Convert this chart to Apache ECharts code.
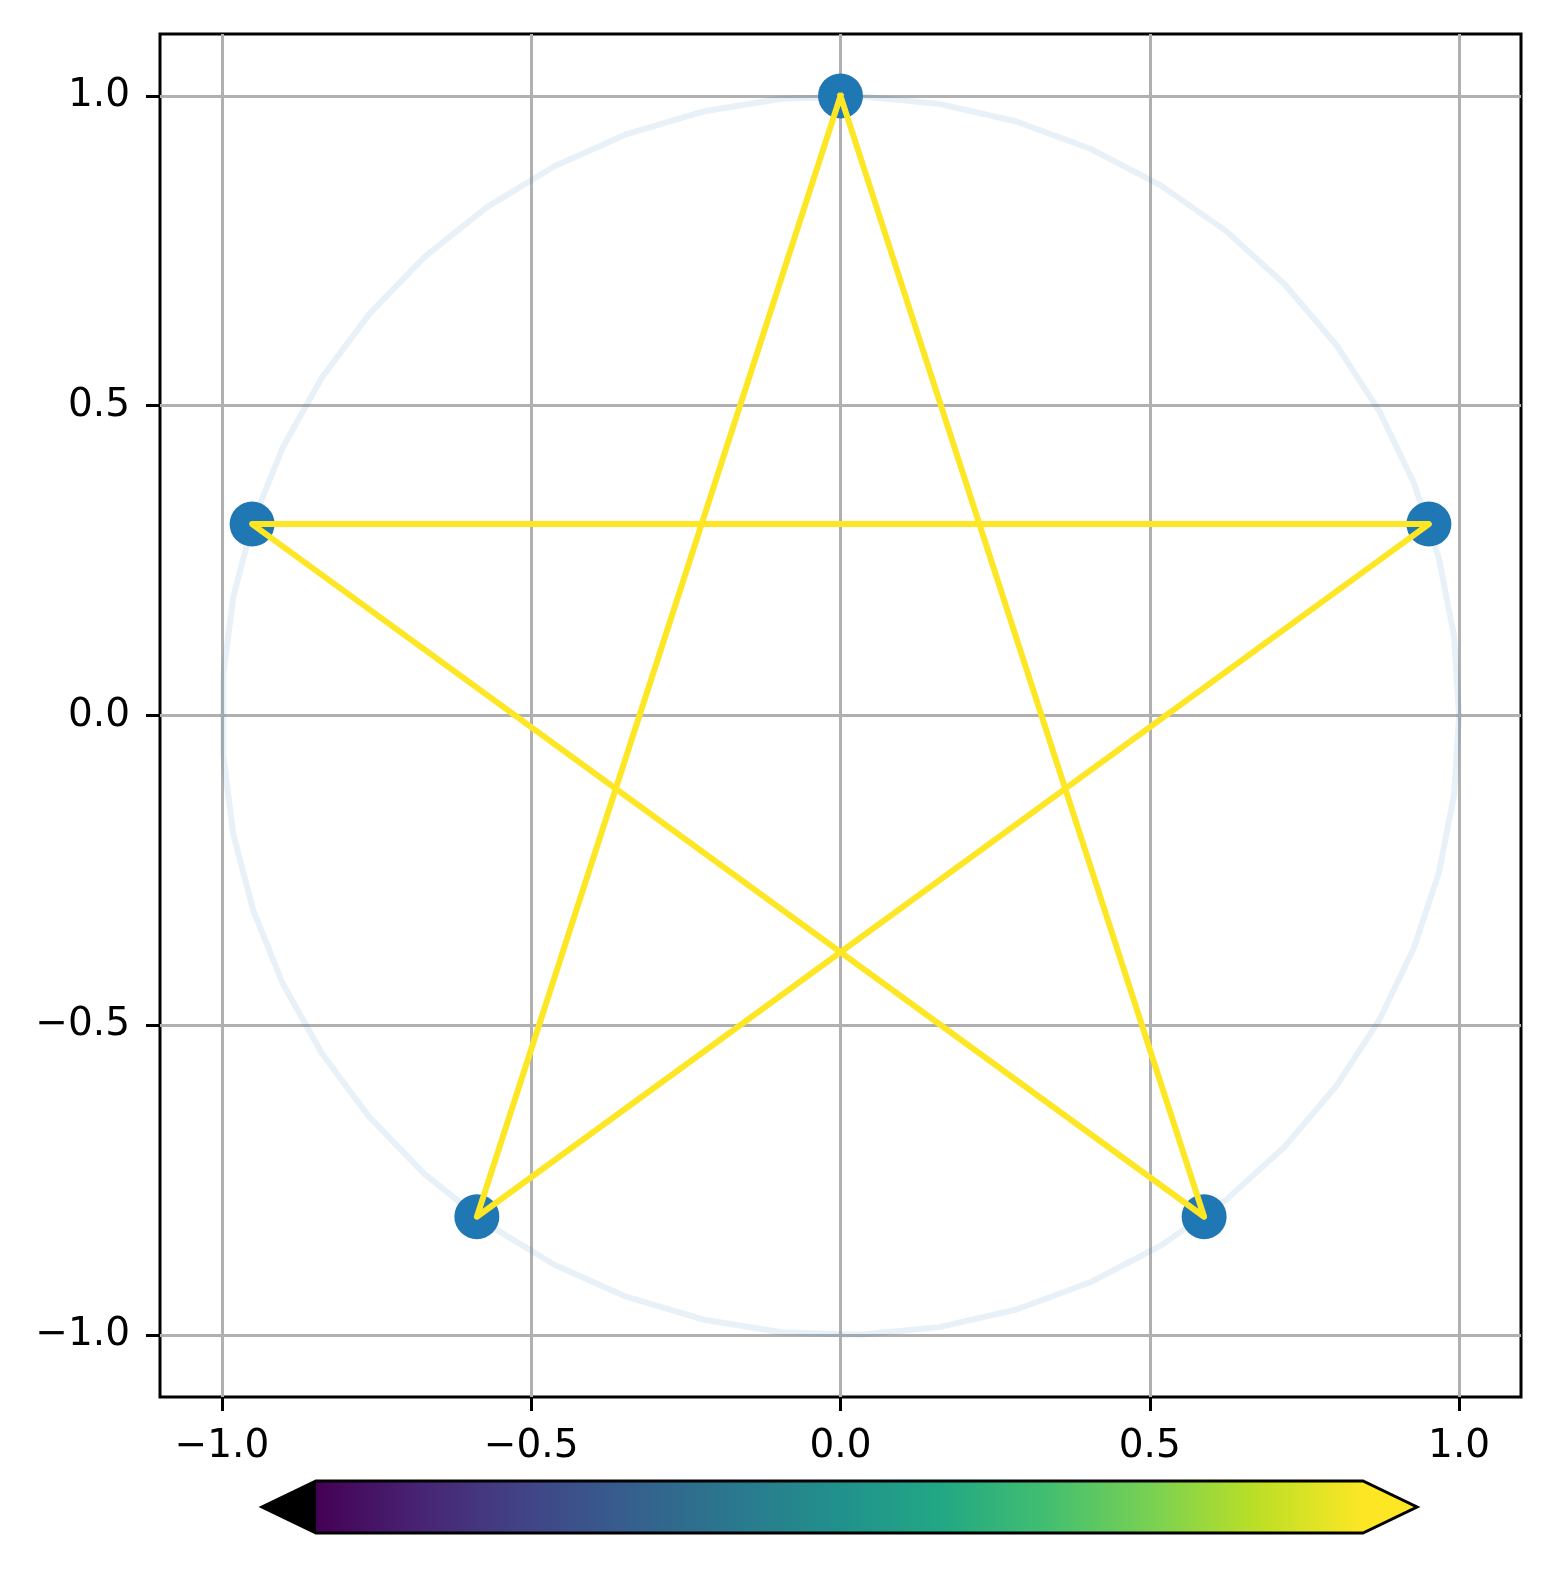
<!DOCTYPE html>
<html>
<head>
<meta charset="utf-8">
<script src="https://cdn.jsdelivr.net/npm/echarts@6/dist/echarts.min.js"></script>
<style>
  html, body { margin: 0; padding: 0; background: #ffffff; }
  #main { width: 1555px; height: 1569px; }
</style>
</head>
<body>
<div id="main"></div>
<script>
// faint reference circle (50 points)
var circleX = [1.0, 0.9918, 0.9673, 0.9269, 0.8713, 0.8014, 0.7183, 0.6235, 0.5183, 0.4048,
  0.2845, 0.1596, 0.0321, -0.0960, -0.2225, -0.3453, -0.4625, -0.5721, -0.6723, -0.7615,
  -0.8382, -0.9010, -0.9491, -0.9816, -0.9979, -0.9979, -0.9816, -0.9491, -0.9010, -0.8382,
  -0.7615, -0.6723, -0.5721, -0.4625, -0.3453, -0.2225, -0.0960, 0.0321, 0.1596, 0.2845,
  0.4048, 0.5183, 0.6235, 0.7183, 0.8014, 0.8713, 0.9269, 0.9673, 0.9918, 1.0];
var circleY = [0.0, 0.1279, 0.2537, 0.3753, 0.4907, 0.5981, 0.6957, 0.7818, 0.8552, 0.9144,
  0.9587, 0.9872, 0.9995, 0.9954, 0.9749, 0.9385, 0.8866, 0.8202, 0.7403, 0.6482,
  0.5455, 0.4339, 0.3151, 0.1912, 0.0641, -0.0641, -0.1912, -0.3151, -0.4339, -0.5455,
  -0.6482, -0.7403, -0.8202, -0.8866, -0.9385, -0.9749, -0.9954, -0.9995, -0.9872, -0.9587,
  -0.9144, -0.8552, -0.7818, -0.6957, -0.5981, -0.4907, -0.3753, -0.2537, -0.1279, 0.0];

// star vertices (markers)
var starX = [0.0, -0.9511, -0.5878, 0.5878, 0.9511];
var starY = [1.0, 0.3090, -0.8090, -0.8090, 0.3090];

// order in which the yellow line visits the vertices
var pathOrder = [0, 2, 4, 1, 3, 0];

var tickValues = [-1.0, -0.5, 0.0, 0.5, 1.0];
var axisMin = -1.1;
var axisMax = 1.1;

// viridis stops for the colorbar
var viridis = ['#440154', '#482475', '#414487', '#355f8d', '#2a788e', '#21918c',
  '#22a884', '#44bf70', '#7ad151', '#bddf26', '#fde725'];

var fontFamily = 'DejaVu Sans';

function fmt(v) {
  var s = Math.abs(v).toFixed(1);
  return (v < 0 ? '\u2212' : '') + s;
}

var circleData = circleX.map(function (x, i) { return [x, circleY[i]]; });
var starData = starX.map(function (x, i) { return [x, starY[i]]; });
var pathData = pathOrder.map(function (k) { return [starX[k], starY[k]]; });

function axisCfg(pos) {
  return {
    type: 'value',
    position: pos,
    min: axisMin,
    max: axisMax,
    axisLine: { show: false, onZero: false },
    axisTick: {
      show: true, inside: false, length: 14, customValues: tickValues,
      lineStyle: { color: '#000', width: 3 }
    },
    axisLabel: {
      show: true, customValues: tickValues, formatter: fmt,
      color: '#000', fontSize: 39, fontFamily: fontFamily,
      margin: pos === 'left' ? 30 : 30
    },
    splitLine: { show: true, lineStyle: { color: '#b0b0b0', width: 3 } }
  };
}

var chart = echarts.init(document.getElementById('main'), null, { renderer: 'canvas' });

var cbLeft = 316, cbRight = 1363, cbTop = 1481, cbBottom = 1533, cbTip = 54;
var cbMid = (cbTop + cbBottom) / 2;

var option = {
  backgroundColor: '#ffffff',
  animation: false,
  grid: {
    left: 160, right: 34, top: 34, bottom: 172,
    show: true, borderColor: '#000', borderWidth: 3, backgroundColor: 'transparent'
  },
  xAxis: axisCfg('bottom'),
  yAxis: axisCfg('left'),
  series: [{
    name: 'circle',
    type: 'line',
    data: circleData,
    showSymbol: false,
    symbol: 'none',
    lineStyle: { color: '#1f77b4', opacity: 0.1, width: 6 },
    z: 2
  }, {
    name: 'points',
    type: 'scatter',
    data: starData,
    symbolSize: 45,
    itemStyle: { color: '#1f77b4', opacity: 1 },
    z: 3
  }, {
    name: 'star',
    type: 'line',
    data: pathData,
    symbol: 'none',
    lineStyle: { color: '#fde725', width: 6, join: 'round', cap: 'square' },
    z: 4
  }],
  graphic: [{
    type: 'rect',
    shape: { x: cbLeft, y: cbTop, width: cbRight - cbLeft, height: cbBottom - cbTop },
    style: {
      fill: new echarts.graphic.LinearGradient(0, 0, 1, 0, viridis.map(function (c, i) {
        return { offset: i / (viridis.length - 1), color: c };
      }))
    },
    z: 10
  }, {
    type: 'polygon',
    shape: { points: [[cbLeft, cbTop], [cbLeft - cbTip, cbMid], [cbLeft, cbBottom]] },
    style: { fill: '#000000' },
    z: 10
  }, {
    type: 'polygon',
    shape: { points: [[cbRight, cbTop], [cbRight + cbTip, cbMid], [cbRight, cbBottom]] },
    style: { fill: '#fde725' },
    z: 10
  }, {
    type: 'polygon',
    shape: {
      points: [[cbLeft, cbTop], [cbRight, cbTop], [cbRight + cbTip, cbMid], [cbRight, cbBottom],
        [cbLeft, cbBottom], [cbLeft - cbTip, cbMid]]
    },
    style: { fill: null, stroke: '#000000', lineWidth: 3 },
    z: 11
  }]
};

chart.setOption(option);
</script>
</body>
</html>
